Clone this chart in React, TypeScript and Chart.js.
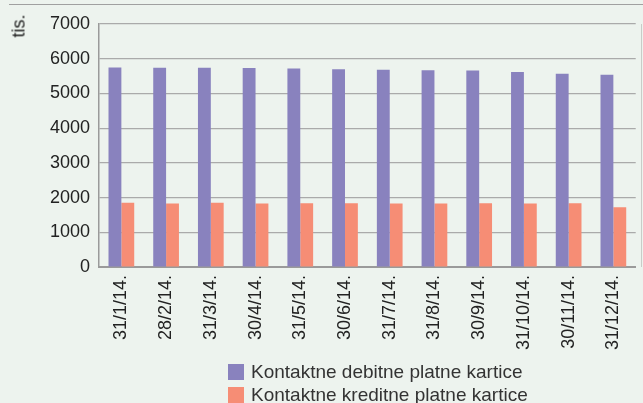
import React, { useEffect, useRef } from "react";
import { Chart, registerables } from "chart.js";

Chart.register(...registerables);

const categories = ["31/1/14.", "28/2/14.", "31/3/14.", "30/4/14.", "31/5/14.", "30/6/14.", "31/7/14.", "31/8/14.", "30/9/14.", "31/10/14.", "30/11/14.", "31/12/14."];
const debitValues = [5750, 5740, 5740, 5730, 5720, 5700, 5680, 5670, 5660, 5620, 5570, 5540];
const creditValues = [1850, 1830, 1850, 1830, 1840, 1840, 1830, 1830, 1840, 1830, 1840, 1720];
const seriesNames = ["Kontaktne debitne platne kartice", "Kontaktne kreditne platne kartice"];
const unitLabel = "tis.";

const PURPLE = "#8982be";
const CORAL = "#f68d75";
const BG = "#edf3ee";
const FONT = "'Liberation Sans', Arial, Helvetica, sans-serif";

export default function App() {
  const ref = useRef<HTMLCanvasElement | null>(null);

  useEffect(() => {
    document.body.style.margin = "0";
    document.body.style.background = BG;
    const ctx = ref.current!.getContext("2d")!;
    const chart = new Chart(ctx, {
      type: "bar",
      data: {
        labels: categories,
        datasets: [
          { label: seriesNames[0], data: debitValues, backgroundColor: PURPLE, categoryPercentage: 0.575, barPercentage: 1 },
          { label: seriesNames[1], data: creditValues, backgroundColor: CORAL, categoryPercentage: 0.575, barPercentage: 1 },
        ],
      },
      options: {
        animation: false,
        responsive: false,
        maintainAspectRatio: false,
        layout: { padding: { top: 24, right: 1, left: 0, bottom: 0 } },
        plugins: { legend: { display: false }, tooltip: { enabled: false } },
        scales: {
          x: {
            grid: { display: true, drawOnChartArea: false, drawTicks: false },
            border: { display: true, color: "#9a9a9a", width: 2 },
            ticks: {
              color: "#222",
              font: { family: FONT, size: 18 },
              minRotation: 90,
              maxRotation: 90,
              padding: 8,
              autoSkip: false,
            },
            afterFit: (s: any) => { s.height = 136; },
          },
          y: {
            min: 0,
            max: 7000,
            grid: { color: "#aaaaaa", lineWidth: 1.2, drawTicks: false },
            border: { display: true, color: "#9a9a9a", width: 1.5 },
            ticks: {
              stepSize: 1000,
              color: "#222",
              font: { family: FONT, size: 18 },
              padding: 9,
              callback: (v: any) => String(v),
            },
            afterFit: (s: any) => { s.width = 99; },
          },
        },
      },
    });
    return () => chart.destroy();
  }, []);

  return (
    <div style={{ position: "relative", width: 643, height: 403, background: BG, overflow: "hidden", fontFamily: FONT }}>
      <div style={{ position: "absolute", left: 9, top: 4, width: 634, height: 1, background: "#a0a0a0" }} />
      <canvas ref={ref} width={643} height={403} style={{ position: "absolute", left: 0, top: 0 }} />
      <div style={{ position: "absolute", left: 641, top: 24, width: 1, height: 243, background: "#c8ccc8" }} />
      <div
        style={{
          position: "absolute",
          left: 18.5,
          top: 26,
          transform: "translate(-50%, -50%) rotate(-90deg)",
          fontSize: 18,
          color: "#222",
          whiteSpace: "nowrap",
        }}
      >
        {unitLabel}
      </div>
      {seriesNames.map((name, i) => (
        <div key={name} style={{ position: "absolute", left: 228, top: 363 + i * 23, height: 17, display: "flex", alignItems: "center" }}>
          <div style={{ width: 16, height: 16, background: i === 0 ? PURPLE : CORAL, marginRight: 7 }} />
          <span style={{ fontSize: 19, color: "#333", lineHeight: "17px" }}>{name}</span>
        </div>
      ))}
    </div>
  );
}
